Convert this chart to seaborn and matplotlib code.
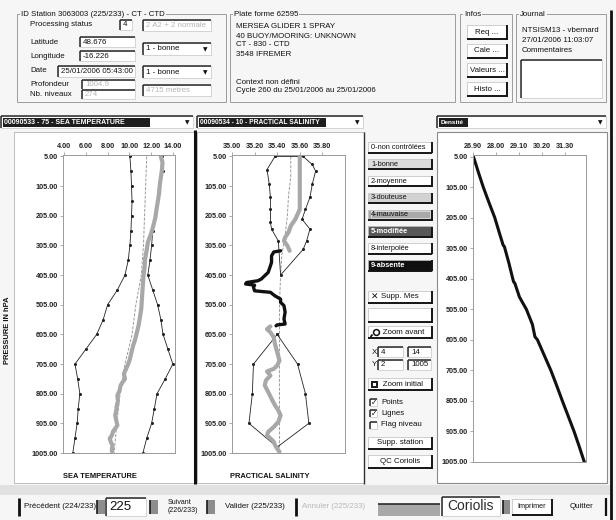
import matplotlib
matplotlib.use("Agg")
import matplotlib.pyplot as plt
from matplotlib.patches import Rectangle
from matplotlib.lines import Line2D
import seaborn as sns

# ---------------- profile data (pressure in dbar) ----------------
pres_ticks = [5, 105, 205, 305, 405, 505, 605, 705, 805, 905, 1005]

# temperature climatology envelope
env_pres = [5, 55, 105, 155, 205, 255, 305, 355, 405, 455, 505,
            555, 605, 655, 705, 755, 805, 855, 905, 955, 1005]
temp_min = [10.05, 10.15, 10.2, 10.25, 10.2, 10.15, 10.05, 9.9, 9.6, 8.9, 8.0,
            7.6, 7.0, 6.0, 5.0, 5.25, 5.45, 5.3, 5.2, 5.0, 4.8]
temp_max = [13.0, 13.1, 12.7, 12.55, 12.35, 12.15, 12.05, 11.9, 11.7, 12.15, 12.6,
            12.9, 13.1, 13.55, 14.0, 13.3, 12.55, 12.3, 12.05, 11.6, 11.25]
# temperature climatology mean
med_pres = [5, 105, 205, 305, 405, 505, 605, 705, 805, 905, 1005]
temp_med = [11.6, 11.5, 11.4, 11.3, 11.1, 10.6, 10.25, 9.6, 9.15, 8.85, 8.6]
# measured temperature
temp_pres = [5, 25, 50, 75, 100, 125, 150, 183, 210, 240, 265, 295, 320, 350, 380,
             408, 435, 462, 490, 518, 553, 575, 597, 620, 643, 665, 688, 705, 721,
             738, 755, 765, 777, 795, 811, 830, 845, 862, 878, 895, 912, 933, 945,
             956, 968, 979, 990, 1000]
temp_obs = [12.9, 13.05, 13.0, 12.9, 12.8, 12.75, 12.65, 12.5, 12.4, 12.2, 12.0, 11.7,
            11.6, 11.45, 11.4, 11.3, 11.25, 11.2, 11.15, 11.1, 10.95, 10.85, 10.7,
            10.55, 10.35, 10.2, 10.05, 9.9, 9.7, 9.5, 9.6, 9.4, 9.2, 9.1, 8.9, 8.95,
            8.85, 8.8, 8.7, 8.8, 8.9, 8.5, 8.4, 8.2, 8.3, 8.45, 8.4, 8.4]

# salinity climatology envelopes (outline vertices)
sal_up_pres = [5, 49, 99, 143, 183, 227, 250, 290, 405, 318, 290, 250, 217, 183,
               143, 99, 54, 32, 5, 5]
sal_up = [35.38, 35.31, 35.33, 35.34, 35.34, 35.34, 35.35, 35.41, 35.43, 35.63,
          35.66, 35.69, 35.62, 35.65, 35.69, 35.71, 35.74, 35.71, 35.63, 35.38]
sal_lo_pres = [605, 705, 805, 905, 985, 905, 805, 705, 605]
sal_lo = [35.40, 35.19, 35.18, 35.15, 35.40, 35.68, 35.65, 35.58, 35.40]
# salinity climatology mean
sal_med_pres = [5, 72, 138, 205, 273, 340, 407, 505, 605, 705, 805, 905, 1005]
sal_med = [35.52, 35.52, 35.50, 35.49, 35.47, 35.44, 35.43, 35.42, 35.42, 35.42,
           35.42, 35.42, 35.42]
# measured salinity, upper part (flag 1)
sal_a_pres = [5, 116, 183, 217, 239, 261, 278, 290, 306, 323]
sal_a = [35.60, 35.60, 35.60, 35.56, 35.52, 35.50, 35.47, 35.46, 35.49, 35.51]
# measured salinity, flagged part (flag 9)
sal_b_pres = [323, 327, 340, 362, 374, 396, 407, 418, 424, 430, 435, 439, 446, 458,
              461, 463, 475, 486, 497, 508, 530, 553, 570, 573, 576]
sal_b = [35.43, 35.37, 35.35, 35.35, 35.34, 35.32, 35.29, 35.26, 35.23, 35.13, 35.12,
         35.20, 35.19, 35.20, 35.28, 35.34, 35.38, 35.43, 35.43, 35.46, 35.47, 35.46,
         35.47, 35.40, 35.39]
# measured salinity, lower part (flag 1)
sal_c_pres = [578, 587, 598, 615, 637, 665, 693, 710, 721, 730, 744, 760, 777, 799,
              822, 844, 861, 878, 900, 917, 934, 945, 956, 967, 978, 990, 1001]
sal_c = [35.34, 35.31, 35.34, 35.37, 35.38, 35.40, 35.42, 35.40, 35.37, 35.31, 35.34,
         35.30, 35.29, 35.32, 35.35, 35.38, 35.41, 35.43, 35.41, 35.37, 35.32, 35.31,
         35.34, 35.37, 35.38, 35.40, 35.42]

# density
dens_pres = [5, 55, 105, 155, 205, 255, 295, 300, 355, 405, 415, 420, 465, 505, 555,
             595, 605, 655, 705, 755, 805, 855, 905, 955, 1005]
dens = [26.92, 27.15, 27.39, 27.66, 27.94, 28.16, 28.34, 28.40, 28.62, 28.80, 28.84,
        28.90, 29.12, 29.45, 29.74, 29.86, 29.98, 30.30, 30.62, 30.90, 31.17, 31.45,
        31.73, 31.98, 32.22]

temp_ticks = [4, 6, 8, 10, 12, 14]
sal_ticks = [35.0, 35.2, 35.4, 35.6, 35.8]
dens_ticks = [26.9, 28.0, 29.1, 30.2, 31.3]

flag_buttons = ["0-non contrôlées", "1-bonne", "2-moyenne", "3-douteuse",
                "4-mauvaise", "5-modifiée", "8-interpolée", "9-absente"]
flag_fill = ["white", "#dcdcdc", "white", "#d2d2d2", "#a9a9a9", "#585858",
             "white", "#101010"]
flag_text = ["#111111"] * 5 + ["white", "#111111", "white"]

# ---------------- figure helpers (pixel coordinates, origin top-left) ----------------
sns.set_theme(style="white")
plt.rcParams["font.family"] = ["Liberation Sans", "DejaVu Sans"]

W, H = 616, 520
BG = "#f6f6f6"
INK = "#111111"
fig = plt.figure(figsize=(W / 100, H / 100), dpi=100, facecolor=BG)


def fx(x):
    return x / W


def fy(y):
    return 1 - y / H


def rect(x0, y0, x1, y1, fc="white", ec="none", lw=0.6, z=1):
    fig.add_artist(Rectangle((fx(x0), fy(y1)), (x1 - x0) / W, (y1 - y0) / H,
                             transform=fig.transFigure, facecolor=fc,
                             edgecolor=ec, linewidth=lw, zorder=z))


def seg(xs, ys, color=INK, lw=1.0, z=3, **kw):
    fig.add_artist(Line2D([fx(x) for x in xs], [fy(y) for y in ys],
                          transform=fig.transFigure, color=color, lw=lw,
                          zorder=z, solid_capstyle="butt", **kw))


def label(x, y, s, size=5.7, color=INK, ha="left", weight="normal", **kw):
    fig.text(fx(x), fy(y), s, fontsize=size, color=color, ha=ha, va="center",
             fontweight=weight, zorder=6, **kw)


def button(x0, y0, x1, y1, s="", fc="white", tc=INK, ha="center", size=5.7,
           weight="normal"):
    rect(x0, y0, x1, y1, fc=fc, ec="#bdbdbd", lw=0.5, z=2)
    seg([x1, x1], [y0, y1 + 0.6], "#151515", 1.4)
    seg([x0, x1], [y1, y1], "#151515", 1.4)
    if s:
        xt = (x0 + x1) / 2 if ha == "center" else x0 + 3
        label(xt, (y0 + y1) / 2, s, size=size, color=tc, ha=ha, weight=weight)


def field(x0, y0, x1, y1, s="", tc=INK, size=5.7, weight="normal"):
    rect(x0, y0, x1, y1, fc="white", ec="#c4c4c4", lw=0.5, z=2)
    seg([x0, x0], [y0, y1], "#2a2a2a", 1.1)
    seg([x0, x1], [y0, y0], "#2a2a2a", 1.1)
    if s:
        label(x0 + 3, (y0 + y1) / 2, s, color=tc, size=size, weight=weight)


def combo(x0, y0, x1, y1, s):
    field(x0, y0, x1, y1, s)
    label(x1 - 6, (y0 + y1) / 2 + 0.5, "▼", size=4.2, ha="center",
          family=["DejaVu Sans"])


def group(x0, y0, x1, y1, title):
    rect(x0, y0, x1, y1, fc="none", ec="#9c9c9c", lw=0.7, z=2)
    fig.text(fx(x0 + 4), fy(y0), title, fontsize=5.7, color=INK, ha="left",
             va="center", zorder=6,
             bbox=dict(facecolor=BG, edgecolor="none", pad=0.6))


# ---------------- window frame ----------------
seg([611, 611], [10, 520], "#111111", 2.0)

# header: station block
group(17, 14, 226, 102, "ID Station 3063003 (225/233) - CT - CTD")
label(30, 25, "Processing status")
field(120, 20, 132, 30, "4")
field(143, 20, 211, 31, "2 A2 + 2 normale", tc="#b5b5b5")
label(30, 42, "Latitude")
field(80, 37, 135, 47, "48.676")
label(30, 56, "Longitude")
field(80, 51, 135, 61, "-16.226")
combo(143, 43, 211, 55, "1 - bonne")
label(30, 71, "Date")
field(58, 66, 135, 77, "25/01/2006 05:43:00")
combo(143, 66, 211, 78, "1 - bonne")
label(30, 84, "Profondeur")
field(82, 80, 135, 89, "1004.9", tc="#b5b5b5")
label(30, 94, "Nb. niveaux")
field(82, 90, 135, 99, "274", tc="#b5b5b5")
field(143, 85, 211, 96, "4715 metres", tc="#b5b5b5")

# header: platform block
group(230, 14, 455, 102, "Plate forme 62595")
for yy, s in [(27, "MERSEA GLIDER 1 SPRAY"), (36, "40 BUOY/MOORING: UNKNOWN"),
              (45, "CT - 830 - CTD"), (54, "3548 IFREMER"),
              (82, "Context non défini"),
              (91, "Cycle 260 du 25/01/2006 au 25/01/2006")]:
    label(236, yy, s)

# header: info buttons
group(460, 14, 512, 102, "Infos")
for i, s in enumerate(["Req ...", "Cale ...", "Valeurs ...", "Histo ..."]):
    y0 = 25 + i * 19
    button(467, y0, 507, y0 + 14, s)

# header: journal
group(516, 14, 606, 102, "Journal")
label(522, 30, "NTSISM13 - vbernard")
label(522, 40, "27/01/2006 11:03:07")
label(522, 50, "Commentaires")
field(521, 60, 602, 98)

# parameter selectors
for (x0, x1, xd, s, sz) in [(1, 193, 150, "00090533 - 75 - SEA TEMPERATURE", 5.0),
                            (197, 363, 326, "00090534 - 10 - PRACTICAL SALINITY", 4.8),
                            (437, 606, 468, "Densité", 4.6)]:
    field(x0, 116, x1, 128)
    rect(x0 + 2, 118, xd, 127, fc="#1e1e1e", z=3)
    label(x0 + 3.5, 122.5, s, color="white", size=sz, weight="bold")
    label(x1 - 6, 122.5, "▼", size=4.2, ha="center", family=["DejaVu Sans"])

# plot panels
rect(14, 132, 195, 483, fc="white", ec="#b4b4b4", lw=0.6)
rect(197, 132, 364, 483, fc="white", ec="#b4b4b4", lw=0.6)
rect(437, 132, 607, 483, fc="white", ec="#8a8a8a", lw=0.8)
seg([195, 195], [130, 484], "#101010", 2.2)
seg([364, 364], [132, 484], "#303030", 1.0)
rect(0, 485, 611, 495, fc="#e1e1e1")
label(8, 330, "PRESSURE IN hPA", size=5.4, ha="center", rotation=90, weight="bold")
label(100, 476, "SEA TEMPERATURE", size=5.4, ha="center", weight="bold")
label(270, 476, "PRACTICAL SALINITY", size=5.4, ha="center", weight="bold")

# flag buttons and tools column
for i, (s, fc, tc) in enumerate(zip(flag_buttons, flag_fill, flag_text)):
    y0 = 142 + i * 16.9
    button(368, y0, 432, y0 + 10.5, s, fc=fc, tc=tc, ha="left", size=5.3,
           weight="bold" if tc == "white" else "normal")
rect(370.5, 211, 429.5, 217.5, fc="none", ec="#dedede", lw=0.6, z=4)
button(368, 291, 432, 303, "Supp. Mes", ha="center")
label(375, 297, "✕", size=6.5, ha="center", weight="bold", family=["DejaVu Sans"])
button(368, 308, 432, 322)
button(368, 326, 432, 338, "   Zoom avant")
fig.add_artist(Line2D([fx(375.5)], [fy(331.5)], transform=fig.transFigure,
                      marker="o", ms=4.2, mfc="white", mec=INK, mew=1.1, zorder=7))
seg([372.5, 370.5], [334.5, 337], INK, 1.3, z=7)
label(372, 352, "X", size=5.7)
field(378, 347, 403, 357, "4")
field(408, 347, 431, 357, "14")
label(372, 365, "Y", size=5.7)
field(378, 360, 403, 370, "2")
field(408, 360, 431, 370, "1005")
button(368, 378, 432, 390, "   Zoom initial")
rect(371, 380.5, 378, 387.5, fc="#202020", z=7)
rect(373, 382.5, 376, 385.5, fc="white", z=8)
for i, (s, on) in enumerate([("Points", True), ("Lignes", True),
                             ("Flag niveau", False)]):
    yy = 402 + i * 11.5
    field(370, yy - 3.5, 377, yy + 3.5)
    if on:
        label(373.6, yy, "✓", size=5.5, ha="center", weight="bold",
              family=["DejaVu Sans"])
    label(381, yy, s)
button(368, 437, 432, 449, "Supp. station")
button(368, 455, 432, 468, "QC Coriolis")


# bottom bar
def pad(x0, x1):
    rect(x0, 500, x1, 514, fc="#8d8d8d", z=2)
    seg([x0, x0], [500, 514], "#1a1a1a", 1.2)


seg([19, 19], [498, 516], "#111111", 2.0)
label(24, 507, "Précédent (224/233)")
pad(97, 105)
field(106, 498, 146, 516, "225", size=9.5)
pad(150, 158)
label(168, 503, "Suivant", size=5.0)
label(168, 511, "(226/233)", size=5.0)
pad(207, 215)
label(225, 507, "Valider (225/233)")
seg([296, 296], [498, 516], "#111111", 2.0)
label(302, 507, "Annuler (225/233)", color="#b8b8b8")
rect(378, 504, 440, 516, fc="#a8a8a8", z=2)
seg([378, 440], [504, 504], "#2a2a2a", 1.2)
field(442, 497, 500, 516)
label(471, 505.5, "Coriolis", size=10, ha="center", color="#2b2b2b")
pad(503, 510)
button(512, 499, 552, 515, "Imprimer", size=5.2)
label(582, 507, "Quitter", ha="center")
seg([606, 606], [498, 516], "#111111", 1.6)


# ---------------- profile plots ----------------
def profile_axes(x0, y0, x1, y1):
    ax = fig.add_axes([fx(x0), fy(y1), (x1 - x0) / W, (y1 - y0) / H])
    ax.set_facecolor("white")
    ax.set_zorder(4)
    return ax


def finish(ax, xlim, xticks):
    ax.set_xlim(*xlim)
    ax.set_ylim(1005, 0)
    ax.xaxis.tick_top()
    ax.set_xticks(xticks)
    ax.set_xticklabels([f"{v:.2f}" for v in xticks], fontweight="bold")
    ax.set_yticks(pres_ticks)
    ax.set_yticklabels([f"{v:.2f}" for v in pres_ticks], fontweight="bold")
    ax.tick_params(length=2, width=0.5, labelsize=5.2, pad=1.5, colors="#8a8a8a",
                   labelcolor="#222222", top=True, left=True, bottom=False,
                   right=False)
    for sp in ax.spines.values():
        sp.set_color("#9a9a9a")
        sp.set_linewidth(0.7)
    ax.set_xlabel("")
    ax.set_ylabel("")


def trace(ax, xs, ps, **kw):
    sns.lineplot(x=xs, y=ps, ax=ax, sort=False, estimator=None, orient="y",
                 legend=False, **kw)


env_style = dict(color="#222222", linewidth=0.6, marker="o", markersize=2.2,
                 markeredgewidth=0)
med_style = dict(color="#9a9a9a", linewidth=0.7, dashes=(3, 1.5))
obs_style = dict(color="#a8a8a8", linewidth=3.0)

ax_t = profile_axes(63, 155, 175, 453)
trace(ax_t, temp_med, med_pres, **med_style)
trace(ax_t, temp_min, env_pres, **env_style)
trace(ax_t, temp_max, env_pres, **env_style)
trace(ax_t, temp_obs, temp_pres, **obs_style)
finish(ax_t, (3.9, 14.2), temp_ticks)

ax_s = profile_axes(232, 155, 345, 453)
trace(ax_s, sal_med, sal_med_pres, **med_style)
trace(ax_s, sal_up, sal_up_pres, **env_style)
trace(ax_s, sal_lo, sal_lo_pres, **env_style)
trace(ax_s, sal_a, sal_a_pres, **obs_style)
trace(ax_s, sal_c, sal_c_pres, **obs_style)
trace(ax_s, sal_b, sal_b_pres, color="#111111", linewidth=2.4)
finish(ax_s, (35.0, 36.0), sal_ticks)

ax_d = profile_axes(473, 155, 586, 462)
trace(ax_d, dens, dens_pres, color="#111111", linewidth=2.2)
finish(ax_d, (26.9, 32.3), dens_ticks)

fig.savefig("out.png", dpi=100, facecolor=BG)
